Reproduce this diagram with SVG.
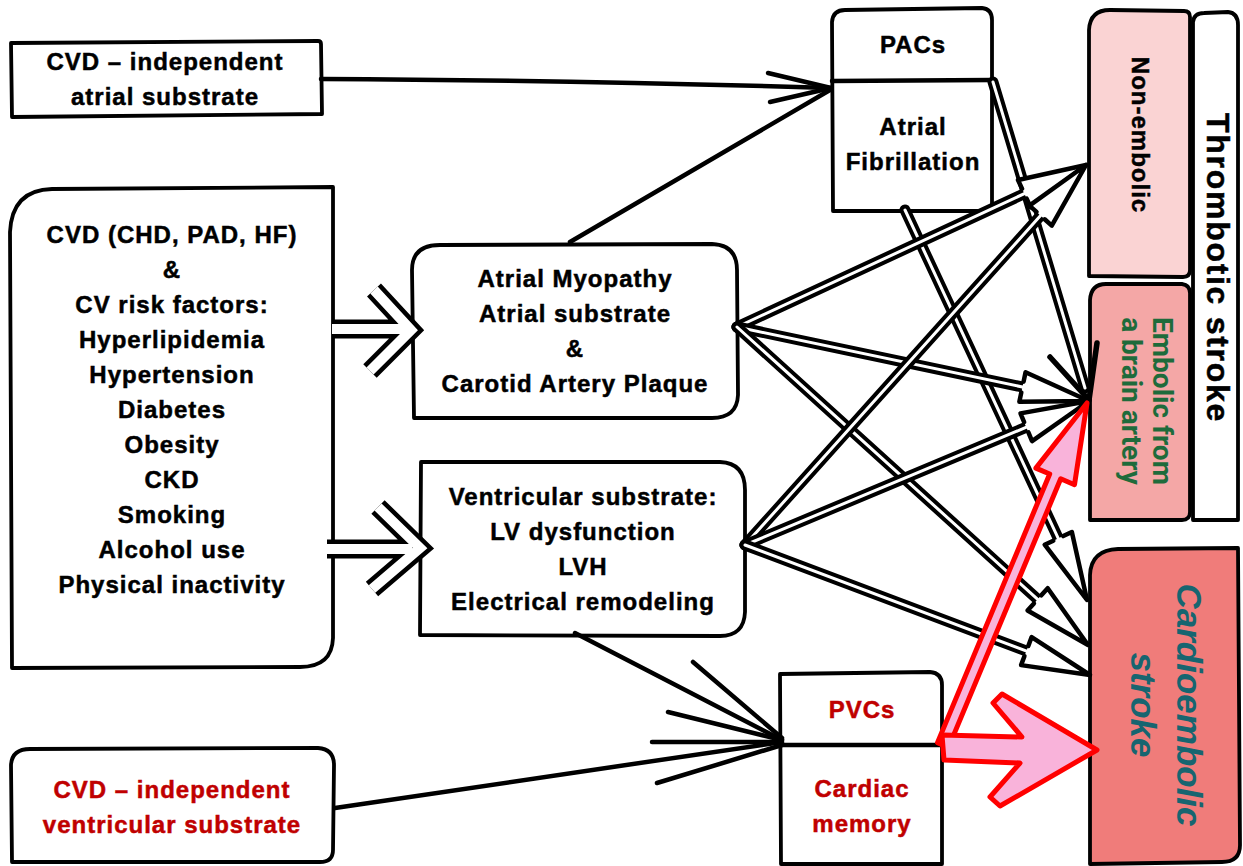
<svg xmlns="http://www.w3.org/2000/svg" width="1243" height="866" viewBox="0 0 1243 866">
<style>
.box{fill:#fff;stroke:#000;stroke-width:3.8;stroke-linejoin:round}
.t{font-family:"Liberation Sans",Arial,sans-serif;font-weight:bold;font-size:24px;letter-spacing:1px;text-anchor:middle;fill:#000;stroke:#000;stroke-width:0.5}
.red{fill:#C00000;stroke:#C00000}
.g{font-family:Roboto,"Liberation Sans",sans-serif;font-weight:bold;font-size:28px;text-anchor:middle;fill:#1E6B3B}
.ce{font-family:"Liberation Sans",Arial,sans-serif;font-weight:bold;font-style:italic;font-size:35px;text-anchor:middle;fill:#176570}
.thin{fill:none;stroke:#000;stroke-width:4.5;stroke-linecap:round;stroke-linejoin:round}
.sb{fill:none;stroke:#000;stroke-width:11;stroke-linecap:round}
.sw{fill:none;stroke:#fff;stroke-width:3;stroke-linecap:round}
.hd{fill:#fff;stroke:#000;stroke-width:4.5;stroke-linejoin:round;stroke-linecap:round}
.cb{fill:none;stroke:#000;stroke-width:19;stroke-linejoin:miter;stroke-linecap:butt}
.cw{fill:none;stroke:#fff;stroke-width:10;stroke-linejoin:miter;stroke-linecap:butt}
.pk{fill:#F9B3DA;stroke:#FF0000;stroke-width:5;stroke-linejoin:round}
</style>
<defs>
<path id="hh" class="hd" d="M-68,-5.5 L-68,-15 L0,0 L-68,15 L-68,5.5"/>
</defs>
<rect width="1243" height="866" fill="#fff"/>

<g id="n-atrial-indep">
<path class="box" d="M11,43 L318,41 Q321,41 321,44 L322,114 L12,117 Z"/>
<text class="t" x="165" y="70">CVD – independent</text>
<text class="t" x="165" y="105">atrial substrate</text>
</g>

<g id="n-risk">
<path class="box" d="M12,668 L10,232 Q12,190 52,189 L333,187 L333,638 Q332,667 300,667 Z"/>
<text class="t" x="172" y="243">CVD (CHD, PAD, HF)</text>
<text class="t" x="172" y="278">&amp;</text>
<text class="t" x="172" y="313">CV risk factors:</text>
<text class="t" x="172" y="348">Hyperlipidemia</text>
<text class="t" x="172" y="383">Hypertension</text>
<text class="t" x="172" y="418">Diabetes</text>
<text class="t" x="172" y="453">Obesity</text>
<text class="t" x="172" y="488">CKD</text>
<text class="t" x="172" y="523">Smoking</text>
<text class="t" x="172" y="558">Alcohol use</text>
<text class="t" x="172" y="593">Physical inactivity</text>
</g>

<g id="n-atrial-myopathy">
<path class="box" d="M414,418 L412,270 Q412,245 440,245 L712,244 Q737,245 737,270 L738,395 Q737,418 712,418 Z"/>
<text class="t" x="575" y="287">Atrial Myopathy</text>
<text class="t" x="575" y="322">Atrial substrate</text>
<text class="t" x="575" y="357">&amp;</text>
<text class="t" x="575" y="392">Carotid Artery Plaque</text>
</g>

<g id="n-ventricular">
<path class="box" d="M421,462 L720,462 Q745,463 745,490 L745,612 Q744,636 720,636 L420,635 Z"/>
<text class="t" x="583" y="505">Ventricular substrate:</text>
<text class="t" x="583" y="540">LV dysfunction</text>
<text class="t" x="583" y="575">LVH</text>
<text class="t" x="583" y="610">Electrical remodeling</text>
</g>

<g id="n-pacs-af">
<path class="box" d="M833,211 L832,22 Q833,10 845,10 L982,8 Q992,9 992,20 L992,211 Z"/>
<path class="thin" d="M832,81 L992,80"/>
<text class="t" x="913" y="53">PACs</text>
<text class="t" x="913" y="135">Atrial</text>
<text class="t" x="913" y="170">Fibrillation</text>
</g>

<g id="n-pvcs">
<path class="box" d="M781,864 L780,674 L930,672 Q942,673 942,685 L942,864 Z"/>
<path class="thin" d="M781,745 L940,745"/>
<text class="t red" x="862" y="718">PVCs</text>
<text class="t red" x="862" y="797">Cardiac</text>
<text class="t red" x="862" y="832">memory</text>
</g>

<g id="n-vent-indep">
<path class="box" d="M12,862 L11,765 Q12,749 30,749 L318,748 Q334,749 334,765 L333,850 Q333,862 320,862 Z"/>
<text class="t red" x="172" y="798">CVD – independent</text>
<text class="t red" x="172" y="833">ventricular substrate</text>
</g>

<g id="n-nonembolic">
<path class="box" style="fill:#FAD3D3" d="M1089,276 L1089,30 Q1090,10 1110,10 L1184,11 Q1190,11 1190,17 L1190,270 Q1190,277 1183,277 Z"/>
<text class="t" transform="translate(1132,135) rotate(90)">Non-embolic</text>
</g>

<g id="n-embolic">
<path class="box" style="fill:#F4A7A6" d="M1090,520 L1090,300 Q1091,284 1106,284 L1182,284 Q1190,285 1190,293 L1190,512 Q1190,520 1182,520 Z"/>
<text class="g" transform="translate(1153,401) rotate(90)">Embolic from</text>
<text class="g" transform="translate(1122,401) rotate(90)">a brain artery</text>
</g>

<g id="n-thrombotic">
<path class="box" d="M1193,520 L1193,22 Q1194,13 1204,13 L1228,12 Q1238,13 1238,25 L1238,520 Z"/>
<text class="t" style="font-size:32px;letter-spacing:1.7px" transform="translate(1207,268) rotate(90)">Thrombotic stroke</text>
</g>

<g id="n-cardioembolic">
<path class="box" style="fill:#F07C7A" d="M1090,864 L1090,575 Q1091,550 1118,549 L1238,548 L1240,845 Q1240,862 1222,862 Z"/>
<text class="ce" transform="translate(1177,705) rotate(90)">Cardioembolic</text>
<text class="ce" transform="translate(1131,705) rotate(90)">stroke</text>
</g>

<g id="connectors">
<path class="thin" d="M321,79 Q560,80 831,88"/>
<path class="thin" d="M768,73 L831,88 L770,102"/>
<path class="thin" d="M570,242 L830,90"/>
<path class="thin" d="M575,633 L782,740"/>
<path class="thin" d="M693,662 L782,738 M668,712 L782,740"/>
<path class="thin" d="M335,808 L782,742"/>
<path class="thin" d="M652,742 L782,742 M657,783 L782,745"/>

<path class="cb" d="M332,329 H404 M374,290 L411,330 L370,371"/>
<path class="cw" d="M332,329 H404 M374,290 L411,330 L370,371"/>
<path class="cb" d="M327,549 H412 M378,507 L420,548 L372,589"/>
<path class="cw" d="M327,549 H412 M378,507 L420,548 L372,589"/>

<path class="sb" d="M993,82 L1085,388"/><path class="sw" d="M993,82 L1085,388"/>
<path class="thin" style="stroke-width:5.5" d="M1050,357 L1089,400 L1097,343"/>
<path class="sb" d="M905,210 L1060.8,543.8"/><path class="sw" d="M905,210 L1060.8,543.8"/>
<path class="sb" d="M737,327 L1029.8,191.1"/><path class="sw" d="M737,327 L1029.8,191.1"/>
<path class="sb" d="M737,327 L1028.3,388.2"/><path class="sw" d="M737,327 L1028.3,388.2"/>
<path class="sb" d="M737,327 L1042.1,603.4"/><path class="sw" d="M737,327 L1042.1,603.4"/>
<path class="sb" d="M745,545 L1044.6,211.1"/><path class="sw" d="M745,545 L1044.6,211.1"/>
<path class="sb" d="M745,545 L1031.8,424.9"/><path class="sw" d="M745,545 L1031.8,424.9"/>
<path class="sb" d="M745,545 L1032,653.2"/><path class="sw" d="M745,545 L1032,653.2"/>
<use href="#hh" transform="translate(1087,600) rotate(65)"/>
<use href="#hh" transform="translate(1086,165) rotate(-24.9)"/>
<use href="#hh" transform="translate(1089,401) rotate(11.9)"/>
<use href="#hh" transform="translate(1088,645) rotate(42.2)"/>
<use href="#hh" transform="translate(1086,165) rotate(-48.1)"/>
<use href="#hh" transform="translate(1089,401) rotate(-22.7)"/>
<use href="#hh" transform="translate(1090,675) rotate(20.6)"/>

<polygon class="pk" points="937.5,742.6 1049.7,474 1035.9,468.1 1087,403 1074.5,484.7 1060.7,478.8 948.5,747.4"/>
<polygon class="pk" points="942,735 1022,737 993,703 1002,694 1097,750 1000,806 990,797 1020,763 944,760"/>
</g>
</svg>
